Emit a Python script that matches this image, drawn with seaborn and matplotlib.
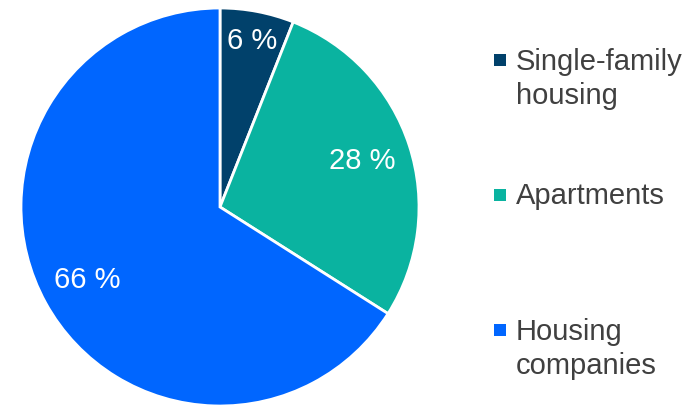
import numpy as np
import matplotlib
matplotlib.use("Agg")
import matplotlib.pyplot as plt
import seaborn as sns

categories = ["Single-family\nhousing", "Apartments", "Housing\ncompanies"]
shares = [6, 28, 66]
colors = ["#01416B", "#0AB3A0", "#0066FF"]
label_radius = [0.85, 0.75, 0.76]

sns.set_theme(style="white")
plt.rcParams["font.family"] = ["Liberation Sans", "DejaVu Sans"]
palette = sns.color_palette(colors)

W, H = 695, 405
fig = plt.figure(figsize=(W / 100, H / 100), dpi=100)

# Pie axes: pixel-aligned so the unit circle has a 199 px radius
cx, cy, r = 220, 207, 199
ax = fig.add_axes([0, 0, 440 / W, 1])
ax.pie(shares, colors=palette, startangle=90, counterclock=False,
       wedgeprops=dict(edgecolor="white", linewidth=2.0))
ax.set_xlim(-cx / r, (440 - cx) / r)
ax.set_ylim(-(H - cy) / r, cy / r)
ax.set_aspect("auto")
ax.axis("off")

# Percentage labels at each wedge's mid-angle
start = 90.0
for val, rad in zip(shares, label_radius):
    span = 360.0 * val / sum(shares)
    mid = np.deg2rad(start - span / 2)
    ax.text(rad * np.cos(mid), rad * np.sin(mid), f"{val} %",
            ha="center", va="center", color="white", fontsize=21)
    start -= span

# Legend column on the right
lax = fig.add_axes([0, 0, 1, 1])
lax.set_xlim(0, W)
lax.set_ylim(H, 0)
lax.axis("off")
for i, (lab, col) in enumerate(zip(categories, palette)):
    y = 60 + 135 * i
    lax.scatter([500], [y], marker="s", s=85, color=col, linewidths=0)
    lax.text(516, y - 12.5, lab, ha="left", va="top", fontsize=21,
             color="#404040", linespacing=1.3)

fig.savefig("out.png", dpi=100)
